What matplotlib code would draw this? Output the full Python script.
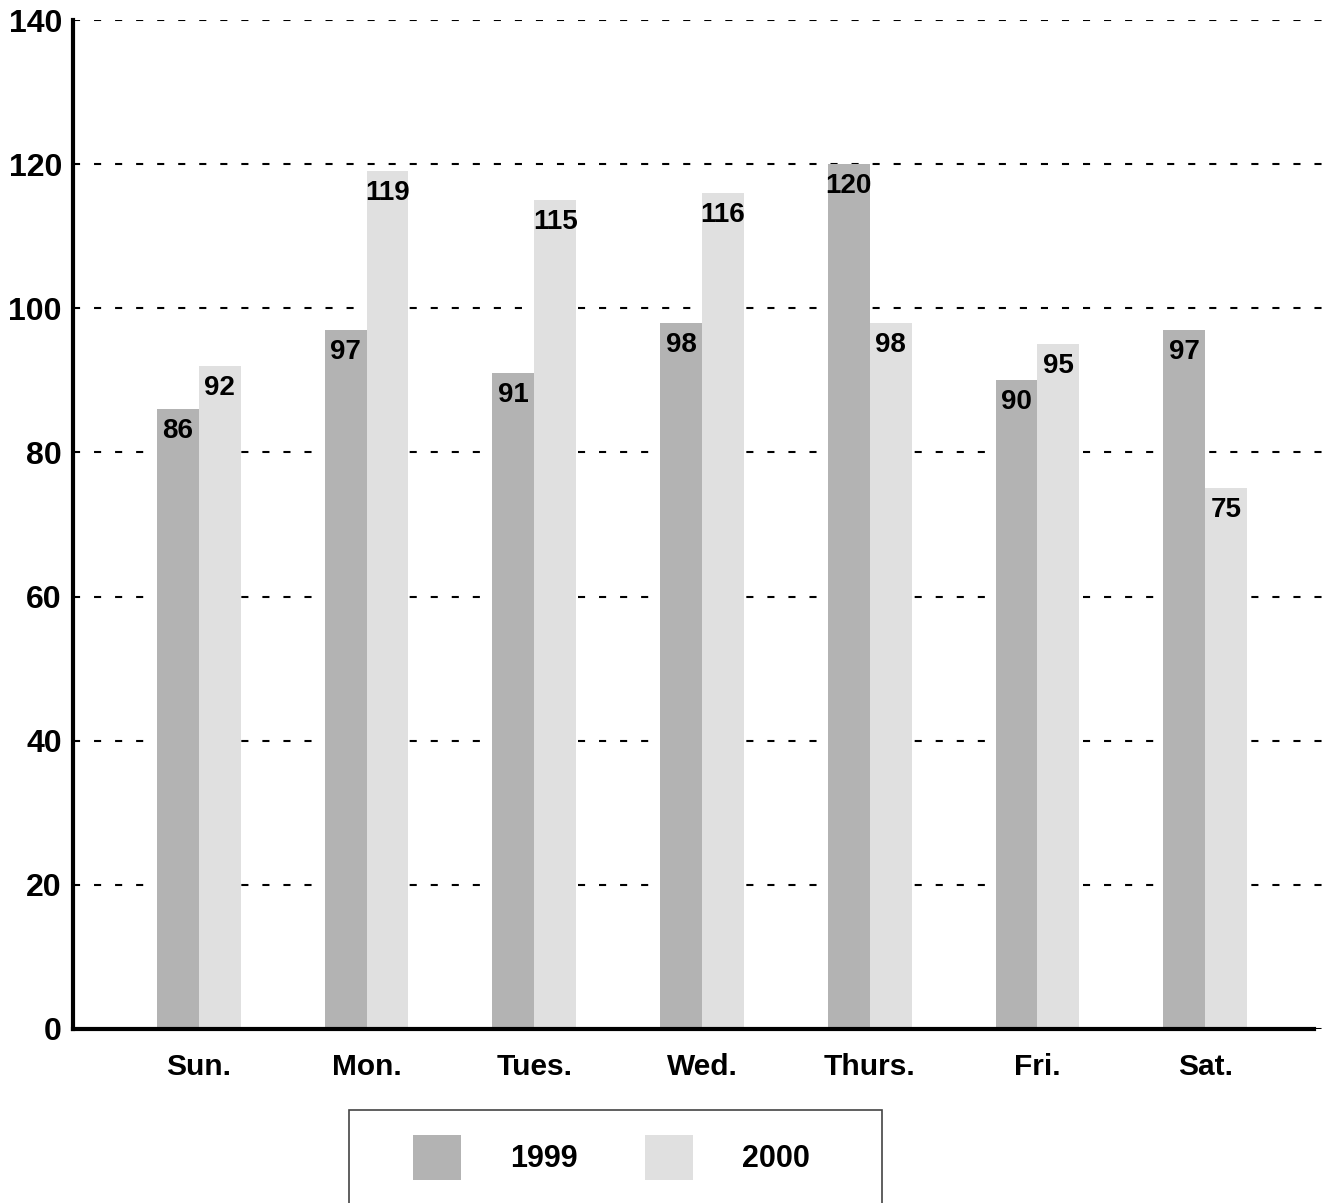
import matplotlib
matplotlib.use("Agg")
import matplotlib.pyplot as plt
from matplotlib.patches import Rectangle
import numpy as np

categories = ["Sun.", "Mon.", "Tues.", "Wed.", "Thurs.", "Fri.", "Sat."]
series_names = ["1999", "2000"]
values_1999 = [86, 97, 91, 98, 120, 90, 97]
values_2000 = [92, 119, 115, 116, 98, 95, 75]
yticks = [0, 20, 40, 60, 80, 100, 120, 140]

colors = ["#b3b3b3", "#e0e0e0"]
W, H = 1335, 1203
fam = ["Liberation Sans", "DejaVu Sans"]
plt.rcParams["font.family"] = fam
fig = plt.figure(figsize=(W / 100, H / 100), dpi=100)

ax = fig.add_axes([73 / W, 1 - 1029 / H, (1331 - 73) / W, (1029 - 20) / H])
x = np.arange(len(categories))
bw = 0.25
b1 = ax.bar(x - bw / 2, values_1999, bw, color=colors[0], label=series_names[0], zorder=2)
b2 = ax.bar(x + bw / 2, values_2000, bw, color=colors[1], label=series_names[1], zorder=2)

for bars, vals in ((b1, values_1999), (b2, values_2000)):
    for r, v in zip(bars, vals):
        ax.annotate(str(v), (r.get_x() + r.get_width() / 2, v), xytext=(0, -6.5),
                    textcoords="offset points", ha="center", va="top",
                    fontsize=20, fontweight="bold", zorder=3)

ax.set_xlim(-0.75, 6.75)
ax.set_ylim(0, 140)
ax.set_yticks(yticks)
ax.set_yticklabels([str(t) for t in yticks], fontsize=23, fontweight="bold")
ax.set_xticks(x)
ax.set_xticklabels(categories, fontsize=21.5, fontweight="bold")
ax.tick_params(axis="both", length=0)
ax.tick_params(axis="y", pad=8)
ax.tick_params(axis="x", pad=17)
ax.yaxis.grid(True, linestyle=(0, (3.4, 6.7)), color="black", linewidth=1.5)
ax.set_axisbelow(True)
for s in ("top", "right"):
    ax.spines[s].set_visible(False)
ax.spines["left"].set_linewidth(3)
ax.spines["bottom"].set_linewidth(3)
ax.spines["bottom"].set_bounds(-0.75, 6.65)
ax.spines["bottom"].set_zorder(5)

fig.patches.append(Rectangle((349 / W, 1 - 1206 / H), (882 - 349) / W, (1206 - 1110) / H,
                             transform=fig.transFigure, facecolor="white",
                             edgecolor="#444444", linewidth=1.2, zorder=1))
leg = fig.legend(loc="center", bbox_to_anchor=(611.5 / W, 1 - 1157.5 / H), ncol=2,
                 prop={"weight": "bold", "size": 22, "family": fam},
                 frameon=False, handlelength=1.57, handleheight=1.93,
                 handletextpad=1.6, columnspacing=2.2, borderpad=0, borderaxespad=0)
leg.set_zorder(2)

fig.savefig("out.png", dpi=100)
